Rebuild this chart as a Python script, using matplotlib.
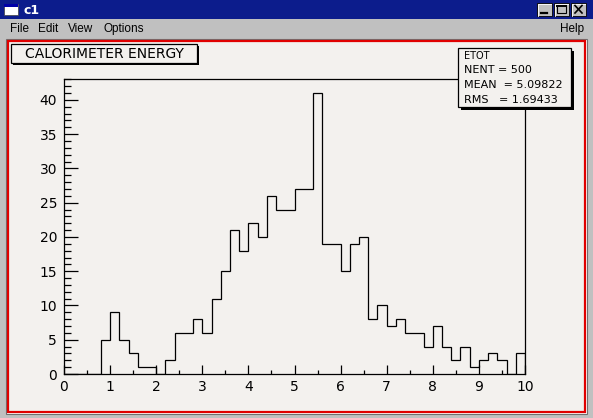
import numpy as np
import matplotlib
matplotlib.use("Agg")
import matplotlib.pyplot as plt
from matplotlib.patches import Rectangle
from matplotlib.ticker import MultipleLocator

# ETOT histogram: 50 bins between 0 and 10
bin_lo, bin_hi = 0.0, 10.0
counts = [0, 0, 0, 0, 5, 9, 5, 3, 1, 1,
          0, 2, 6, 6, 8, 6, 11, 15, 21, 18,
          22, 20, 26, 24, 24, 27, 27, 41, 19, 19,
          15, 19, 20, 8, 10, 7, 8, 6, 6, 4,
          7, 4, 2, 4, 1, 2, 3, 2, 0, 3]
y_max = 43.05

title = "CALORIMETER ENERGY"
stats_name = "ETOT"
stats_lines = ["NENT = 500", "MEAN  = 5.09822", "RMS   = 1.69433"]
window_name = "c1"
menu_items = ["File", "Edit", "View", "Options"]
menu_x = [10, 38, 68, 103]

W, H = 593, 418
canvas_col = "#f3f1ee"
gray = "#c0c0c0"


def box(a, x0, y0, x1, y1, **kw):
    a.add_patch(Rectangle((x0, y0), x1 - x0, y1 - y0, **kw))


fig = plt.figure(figsize=(W / 100, H / 100), dpi=100, facecolor=gray)

# window chrome, drawn in pixel coordinates
bg = fig.add_axes([0, 0, 1, 1], zorder=0)
bg.set_xlim(0, W)
bg.set_ylim(H, 0)
bg.axis("off")

box(bg, 0, 0, W, 19, fc="#0c1c8c", ec="none")
box(bg, 4, 4, 18, 15, fc="white", ec="#404040", lw=0.5)
box(bg, 4, 4, 18, 7, fc="#0000a8", ec="none")
bg.text(23, 10, window_name, color="white", weight="bold", fontsize=9, va="center")

for x0 in (537, 554, 571):
    box(bg, x0, 3, x0 + 15, 16, fc=gray, ec="black", lw=0.6)
    bg.plot([x0 + 0.5, x0 + 0.5, x0 + 14], [15.5, 3.5, 3.5], color="white", lw=0.6)
bg.plot([541, 547], [13, 13], color="black", lw=1.6)
box(bg, 557, 5, 566, 13, fc="none", ec="black", lw=0.8)
bg.plot([557, 566], [5.5, 5.5], color="black", lw=1.4)
bg.plot([575, 582], [5.5, 13], color="black", lw=1.2)
bg.plot([575, 582], [13, 5.5], color="black", lw=1.2)

for name, x in zip(menu_items, menu_x):
    bg.text(x, 29, name, fontsize=8.5, va="center", family="Liberation Sans")
bg.text(560, 29, "Help", fontsize=8.5, va="center", family="Liberation Sans")

box(bg, 6, 39, 587, 414, fc="white", ec="#707070", lw=0.8)
box(bg, 8, 41, 585, 412, fc=canvas_col, ec="#e00000", lw=1.6)

# histogram frame
ax = fig.add_axes([64 / W, (H - 374) / H, (525 - 64) / W, (374 - 79) / H], zorder=1)
ax.patch.set_alpha(0)
edges = np.linspace(bin_lo, bin_hi, len(counts) + 1)
ax.stairs(counts, edges, color="black", lw=0.9)
ax.set_xlim(bin_lo, bin_hi)
ax.set_ylim(0, y_max)
for s in ax.spines.values():
    s.set_linewidth(0.9)
ax.xaxis.set_major_locator(MultipleLocator(1))
ax.xaxis.set_minor_locator(MultipleLocator(0.5))
ax.yaxis.set_major_locator(MultipleLocator(5))
ax.yaxis.set_minor_locator(MultipleLocator(1))
ax.tick_params(axis="x", which="major", direction="in", length=6.5, width=0.9,
               labelsize=10, pad=4)
ax.tick_params(axis="x", which="minor", direction="in", length=3.2, width=0.9)
ax.tick_params(axis="y", which="major", direction="in", length=10, width=0.9,
               labelsize=10, pad=5)
ax.tick_params(axis="y", which="minor", direction="in", length=5, width=0.9)

# title and stats panes
fg = fig.add_axes([0, 0, 1, 1], zorder=2)
fg.set_xlim(0, W)
fg.set_ylim(H, 0)
fg.axis("off")

box(fg, 13, 46, 199, 65, fc="black", ec="none")
box(fg, 11, 44, 197, 63, fc=canvas_col, ec="black", lw=0.9)
fg.text(104, 54, title, fontsize=10, ha="center", va="center")

box(fg, 461, 51, 574, 110, fc="black", ec="none")
box(fg, 458, 48, 571, 107, fc=canvas_col, ec="black", lw=0.9)
fg.text(464, 56, stats_name, fontsize=7, va="center")
for i, line in enumerate(stats_lines):
    fg.text(464, 70 + i * 15, line, fontsize=8, va="center")

fig.savefig("out.png", dpi=100, facecolor=gray)
